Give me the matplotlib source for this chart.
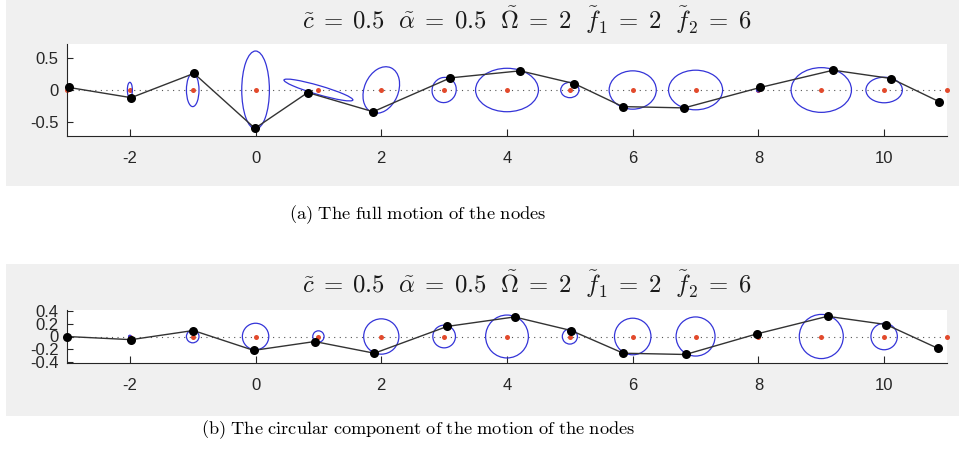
import numpy as np
import matplotlib
matplotlib.use("Agg")
import matplotlib.pyplot as plt
from matplotlib.patches import Ellipse, Rectangle

plt.rcParams['mathtext.fontset'] = 'cm'
plt.rcParams['axes.unicode_minus'] = False
plt.rcParams['font.family'] = ['Liberation Sans', 'DejaVu Sans']

# equilibrium positions of the nodes
rest_x = [-3, -2, -1, 0, 1, 2, 3, 4, 5, 6, 7, 8, 9, 10, 11]

# (a) full motion: current node positions and traced ellipses
full_x = [-2.97, -1.98, -0.98, -0.01, 0.83, 1.87, 3.10, 4.21, 5.07, 5.84, 6.82, 8.03, 9.19, 10.11, 10.87]
full_y = [0.04, -0.12, 0.26, -0.60, -0.04, -0.34, 0.19, 0.30, 0.10, -0.26, -0.28, 0.04, 0.31, 0.18, -0.18]
ell_w = [0.0, 0.08, 0.20, 0.44, 1.14, 0.76, 0.40, 1.00, 0.29, 0.75, 0.86, 0.06, 0.96, 0.58, 0.0]
ell_h = [0.0, 0.24, 0.52, 1.22, 0.14, 0.54, 0.38, 0.68, 0.24, 0.60, 0.62, 0.06, 0.70, 0.40, 0.0]
ell_ang = [0, 0, 0, 0, -16, 66, 60, 0, 0, 0, 0, 0, 0, 0, 0]

# (b) circular component only
circ_x = [-3.0, -1.98, -0.99, -0.03, 0.94, 1.89, 3.05, 4.12, 5.02, 5.85, 6.84, 7.97, 9.10, 10.03, 10.86]
circ_y = [0.0, -0.05, 0.095, -0.22, -0.08, -0.265, 0.16, 0.31, 0.095, -0.265, -0.285, 0.04, 0.32, 0.19, -0.19]
circ_r = [0.0, 0.02, 0.10, 0.21, 0.09, 0.28, 0.18, 0.34, 0.12, 0.29, 0.31, 0.02, 0.35, 0.21, 0.0]

eq = r'\;=\;'
title = (r'$\tilde{c}' + eq + r'0.5\ \ \tilde{\alpha}' + eq + r'0.5\ \ \tilde{\Omega}' + eq +
         r'2\ \ \tilde{f}_1' + eq + r'2\ \ \tilde{f}_2' + eq + r'6$')

W, H = 959, 463
fig = plt.figure(figsize=(W / 100, H / 100), dpi=100)

# grey figure backgrounds behind each panel
for top, bot in [(0, 186), (264, 416)]:
    fig.patches.append(Rectangle((6 / W, 1 - bot / H), 1 - 6 / W, (bot - top) / H,
                                 transform=fig.transFigure, facecolor='#f0f0f0',
                                 edgecolor='none', zorder=-5))

blue = '#3434d8'
red = '#e24a2c'
axcol = '#262626'


def setup(ax, ylim, yticks):
    ax.set_xlim(-3, 11)
    ax.set_ylim(*ylim)
    ax.set_xticks([-2, 0, 2, 4, 6, 8, 10])
    ax.set_yticks(yticks)
    ax.set_yticklabels([('%g' % t) for t in yticks])
    for s in ['top', 'right']:
        ax.spines[s].set_visible(False)
    for s in ['left', 'bottom']:
        ax.spines[s].set_color(axcol)
        ax.spines[s].set_linewidth(0.8)
    ax.tick_params(axis='x', direction='in', length=5, width=0.8, color=axcol,
                   labelsize=12, labelcolor=axcol, pad=11)
    ax.tick_params(axis='y', direction='in', length=4, width=0.8, color=axcol,
                   labelsize=12, labelcolor=axcol, pad=6)
    ax.plot([-3, 11], [0, 0], linestyle=(0, (1, 4)), color='#555555', lw=0.8, zorder=1)
    ax.plot(rest_x, np.zeros(len(rest_x)), 'o', color=red, ms=3.6, mec='none',
            zorder=2, clip_on=False)


# top panel: full motion
ax1 = fig.add_axes([67 / W, 1 - 136 / H, 880 / W, 92 / H])
setup(ax1, (-0.72, 0.72), [-0.5, 0, 0.5])
for x0, w, h, a in zip(rest_x, ell_w, ell_h, ell_ang):
    if w > 0:
        ax1.add_patch(Ellipse((x0, 0), w, h, angle=a, fill=False, ec=blue, lw=0.9, zorder=3))
ax1.plot(full_x, full_y, '-', color='#333333', lw=1.0, zorder=4, clip_on=False)
ax1.plot(full_x, full_y, 'o', color='black', ms=6.5, mec='none', zorder=5, clip_on=False)

# bottom panel: circular part
ax2 = fig.add_axes([67 / W, 1 - 363 / H, 880 / W, 53 / H])
setup(ax2, (-0.42, 0.42), [-0.4, -0.2, 0, 0.2, 0.4])
for x0, r in zip(rest_x, circ_r):
    if r > 0:
        ax2.add_patch(Ellipse((x0, 0), 2 * r, 2 * r, fill=False, ec=blue, lw=0.9, zorder=3))
ax2.plot(circ_x, circ_y, '-', color='#333333', lw=1.0, zorder=4, clip_on=False)
ax2.plot(circ_x, circ_y, 'o', color='black', ms=6.5, mec='none', zorder=5, clip_on=False)

fig.text(527 / W, 1 - 20 / H, title, ha='center', va='center', fontsize=17.8, color='#1a1a1a')
fig.text(527 / W, 1 - 284 / H, title, ha='center', va='center', fontsize=17.8, color='#1a1a1a')

fig.text(418 / W, 1 - 215 / H, r'$\mathrm{(a)\ The\ full\ motion\ of\ the\ nodes}$',
         ha='center', va='center', fontsize=13.3)
fig.text(418 / W, 1 - 430 / H,
         r'$\mathrm{(b)\ The\ circular\ component\ of\ the\ motion\ of\ the\ nodes}$',
         ha='center', va='center', fontsize=13.2)

fig.savefig('out.png', dpi=100)
